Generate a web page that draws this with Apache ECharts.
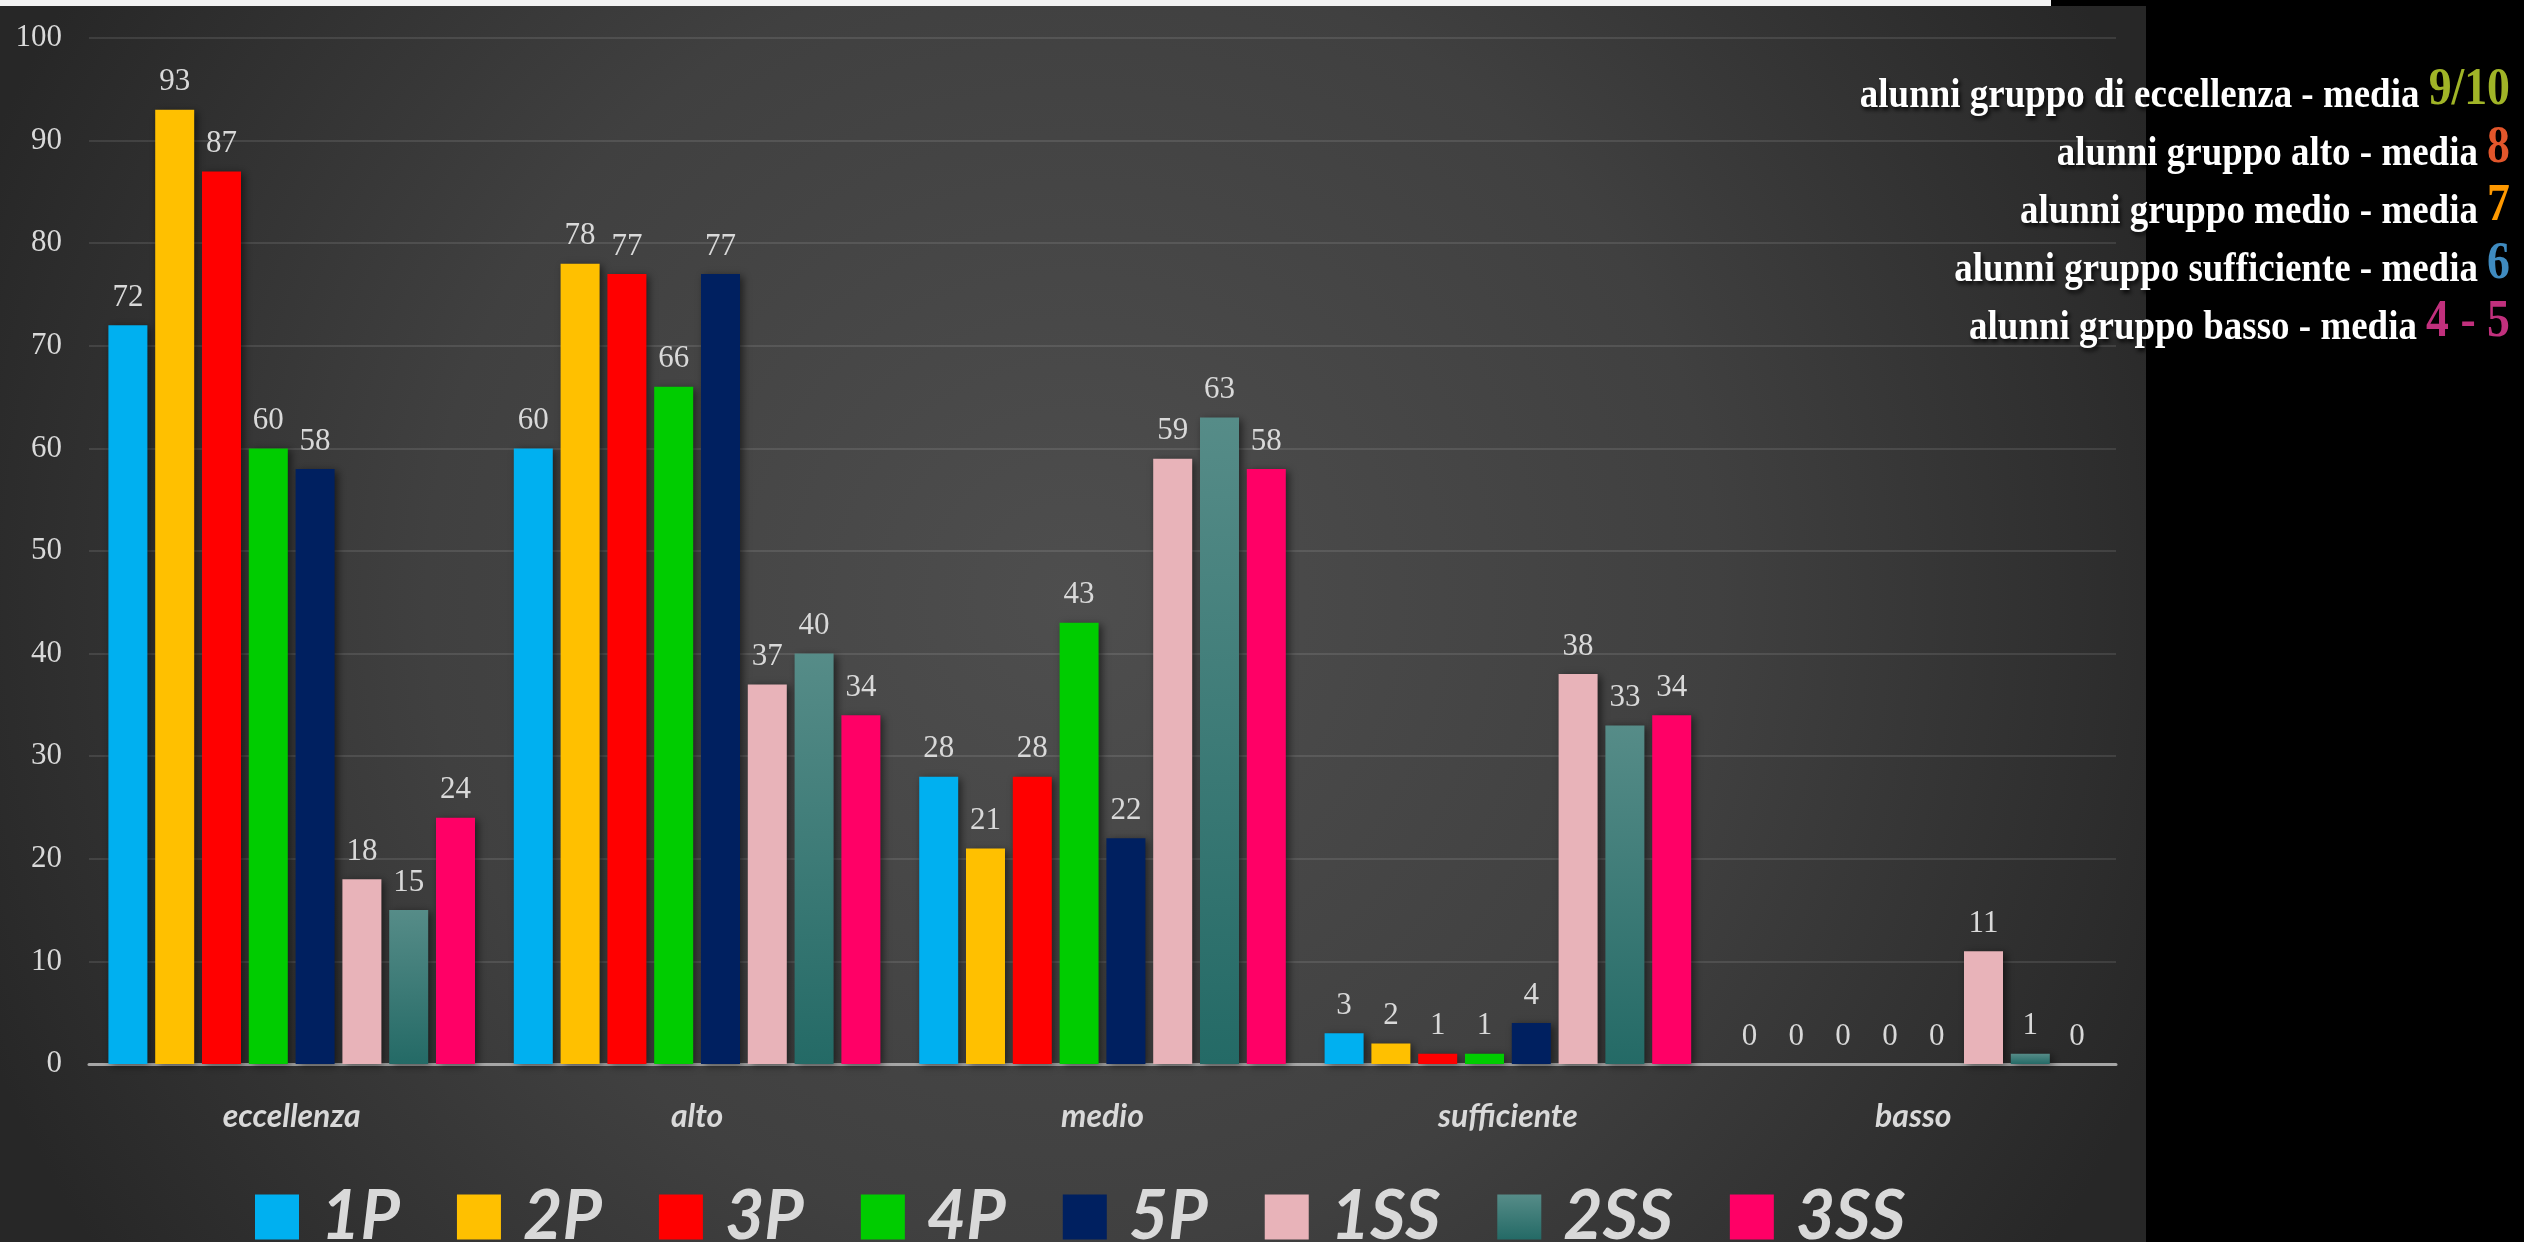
<!DOCTYPE html>
<html>
<head>
<meta charset="utf-8">
<title>Gruppi di livello</title>
<script src="https://cdn.jsdelivr.net/npm/echarts@6/dist/echarts.min.js"></script>
<style>
  html, body {
    margin: 0;
    padding: 0;
    background: #000;
  }
  #chart {
    width: 2524px;
    height: 1242px;
  }
</style>
</head>
<body>
<div id="chart"></div>
<script>
// categorie (gruppi di livello)
var livelli = ["eccellenza", "alto", "medio", "sufficiente", "basso"];

// classi
var classi = ["1P", "2P", "3P", "4P", "5P", "1SS", "2SS", "3SS"];

// numero alunni per classe, nell'ordine dei livelli
var v1P = [72, 60, 28, 3, 0];
var v2P = [93, 78, 21, 2, 0];
var v3P = [87, 77, 28, 1, 0];
var v4P = [60, 66, 43, 1, 0];
var v5P = [58, 77, 22, 4, 0];
var v1SS = [18, 37, 59, 38, 11];
var v2SS = [15, 40, 63, 33, 1];
var v3SS = [24, 34, 58, 34, 0];

// tacche asse y
var yTicks = [0, 10, 20, 30, 40, 50, 60, 70, 80, 90, 100];

// legenda a destra
var gruppiTesto = ["di eccellenza", "alto", "medio", "sufficiente", "basso"];
var medie = ["9/10", "8", "7", "6", "4 - 5"];

var valori = [v1P, v2P, v3P, v4P, v5P, v1SS, v2SS, v3SS];

// stili
var colori = [
  "#00b0f0",
  "#ffc000",
  "#ff0000",
  "#00cc00",
  "#002060",
  "#e8b3b9",
  new echarts.graphic.LinearGradient(0, 0, 0, 1, [
    { offset: 0, color: "#568c88" },
    { offset: 1, color: "#246a66" }
  ]),
  "#ff0066"
];
var coloriMedie = ["#a0b427", "#e2562b", "#ff9900", "#3f8bc0", "#c1307d"];
var larghezzaTestoLegenda = { "1P": 57, "2P": 81, "3P": 83, "4P": 90, "5P": 84, "1SS": 97, "2SS": 123, "3SS": 124 };

var textShadow = {
  textShadowColor: "rgba(0,0,0,0.85)",
  textShadowBlur: 4,
  textShadowOffsetX: 2,
  textShadowOffsetY: 3
};

var myChart = echarts.init(document.getElementById("chart"));

var series = classi.map(function (nome, i) {
  return {
    name: nome,
    type: "bar",
    data: valori[i],
    barWidth: 39,
    barGap: "20%",
    itemStyle: {
      color: colori[i],
      shadowColor: "rgba(0,0,0,0.55)",
      shadowBlur: 8,
      shadowOffsetX: 3,
      shadowOffsetY: 2
    },
    label: {
      show: true,
      position: "top",
      distance: 12,
      color: "#d9d9d9",
      fontFamily: "Liberation Serif",
      fontSize: 31
    }
  };
});

// testo a destra (un po' stretto, come nell'originale)
var righe = gruppiTesto.map(function (g, i) {
  return {
    type: "text",
    x: 2510,
    y: 117 + i * 58,
    scaleX: 0.88,
    z: 10,
    silent: true,
    style: {
      text: "{w|alunni gruppo " + g + " - media }{n|" + medie[i] + "}",
      align: "right",
      verticalAlign: "bottom",
      rich: {
        w: Object.assign({
          fill: "#ffffff",
          fontFamily: "Liberation Serif",
          fontWeight: "bold",
          fontSize: 42,
          lineHeight: 52,
          verticalAlign: "bottom"
        }, textShadow),
        n: Object.assign({
          fill: coloriMedie[i],
          fontFamily: "Liberation Serif",
          fontWeight: "bold",
          fontSize: 52,
          lineHeight: 52,
          verticalAlign: "bottom"
        }, textShadow)
      }
    }
  };
});

var option = {
  backgroundColor: "#000",
  animation: false,
  graphic: [
    {
      type: "rect",
      z: -100,
      silent: true,
      shape: { x: 0, y: 6, width: 2146, height: 1236 },
      style: {
        fill: new echarts.graphic.RadialGradient(0.5, 0.48, 0.95, [
          { offset: 0, color: "#4e4e4e" },
          { offset: 0.55, color: "#404040" },
          { offset: 1, color: "#272727" }
        ])
      }
    },
    {
      type: "rect",
      z: -100,
      silent: true,
      shape: { x: 0, y: 0, width: 2051, height: 6 },
      style: { fill: "#f2f2f2" }
    }
  ].concat(righe),
  grid: {
    left: 89,
    right: 408,
    top: 38,
    bottom: 178
  },
  legend: {
    left: 250,
    top: 1178,
    itemWidth: 44,
    itemHeight: 45,
    itemGap: 57,
    icon: "rect",
    data: classi.map(function (c) {
      return {
        name: c,
        textStyle: { width: larghezzaTestoLegenda[c] }
      };
    }),
    textStyle: {
      color: "#d9d9d9",
      fontFamily: "Lato",
      fontWeight: "bold",
      fontStyle: "italic",
      fontSize: 68,
      padding: [0, 0, 0, 17],
      overflow: "none"
    }
  },
  xAxis: {
    type: "category",
    data: livelli,
    axisTick: { show: false },
    axisLine: { lineStyle: { color: "#a6a6a6", width: 3 } },
    axisLabel: {
      margin: 37,
      color: "#d9d9d9",
      fontFamily: "Lato",
      fontWeight: "bold",
      fontStyle: "italic",
      fontSize: 32
    }
  },
  yAxis: {
    type: "value",
    min: yTicks[0],
    max: yTicks[yTicks.length - 1],
    interval: yTicks[1] - yTicks[0],
    axisLine: { show: false },
    axisTick: { show: false },
    splitLine: { lineStyle: { color: "rgba(255,255,255,0.1)", width: 2 } },
    axisLabel: {
      margin: 27,
      color: "#d9d9d9",
      fontFamily: "Liberation Serif",
      fontSize: 31
    }
  },
  series: series
};

myChart.setOption(option);
</script>
</body>
</html>
